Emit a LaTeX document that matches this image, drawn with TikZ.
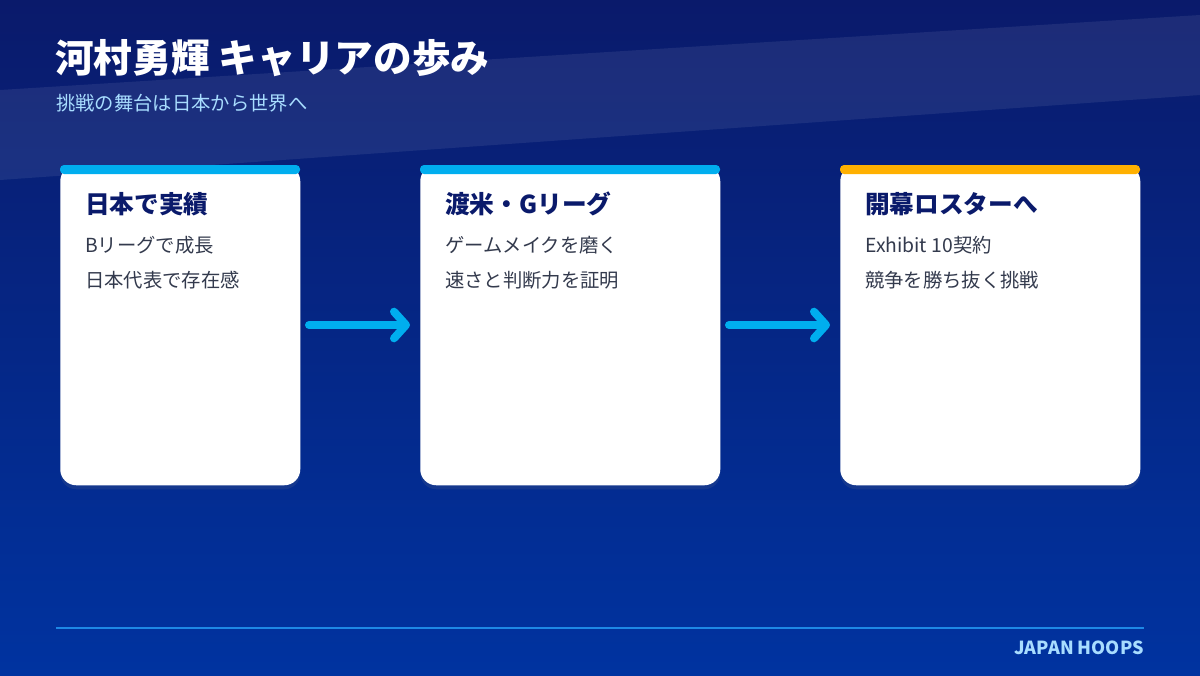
\documentclass[tikz,border=0pt]{standalone}
\usepackage{fontspec}
\setmainfont{Noto Sans CJK JP}[BoldFont={Noto Sans CJK JP Black}]
\usetikzlibrary{positioning,arrows.meta,shadows}
\definecolor{navy}{HTML}{0A1A6B}
\definecolor{deepblue}{HTML}{0033A0}
\definecolor{cyanbar}{HTML}{00AEEF}
\definecolor{orangebar}{HTML}{FFB000}
\definecolor{bodytext}{HTML}{333A4D}
\definecolor{subtext}{HTML}{A8DDFF}
\definecolor{rulecol}{HTML}{1E88E5}

\tikzset{
  card/.style={anchor=north west,fill=white,rounded corners=16*0.75pt,
    minimum height=320*0.75pt,inner sep=0pt,
    drop shadow={opacity=0.15,shadow xshift=0pt,shadow yshift=-3pt}},
  bar/.style={rounded corners=3pt},
  txt/.style={anchor=west,inner sep=0pt},
  head/.style={txt,text=navy,font=\bfseries\fontsize{18.5}{20}\selectfont},
  line/.style={txt,text=bodytext,font=\fontsize{14.5}{16}\selectfont},
  flow/.style={-{Straight Barb[length=9pt,width=20pt,round]},
    line width=6pt,line cap=round,draw=cyanbar,shorten <=9*0.75pt,shorten >=10*0.75pt}
}

\begin{document}
\begin{tikzpicture}[x=0.75pt,y=-0.75pt]
\useasboundingbox (0,0) rectangle (1200,675);
\shade[top color=navy,bottom color=deepblue] (0,0) rectangle (1200,675);
\fill[white,opacity=0.08] (0,90) -- (1200,15) -- (1200,95) -- (0,180) -- cycle;

\node[txt,text=white,font=\bfseries\fontsize{29}{32}\selectfont] (title) at (55,58) {河村勇輝 キャリアの歩み};
\node[txt,text=subtext,font=\fontsize{14.5}{16}\selectfont] (sub) at (56,103) {挑戦の舞台は日本から世界へ};

% cards
\node[card,minimum width=240*0.75pt] (c1) at (60,165) {};
\node[card,minimum width=300*0.75pt] (c2) at (420,165) {};
\node[card,minimum width=300*0.75pt] (c3) at (840,165) {};
\fill[bar,cyanbar] (60,165) rectangle (300,174);
\fill[bar,cyanbar] (420,165) rectangle (720,174);
\fill[bar,orangebar] (840,165) rectangle (1140,174);

\node[head] (h1) at (85,204) {日本で実績};
\node[line] (a1) at (85,245) {Bリーグで成長};
\node[line] (b1) at (85,280) {日本代表で存在感};

\node[head] (h2) at (445,204) {渡米・Gリーグ};
\node[line] (a2) at (445,245) {ゲームメイクを磨く};
\node[line] (b2) at (445,280) {速さと判断力を証明};

\node[head] (h3) at (865,204) {開幕ロスターへ};
\node[line] (a3) at (865,245) {Exhibit 10契約};
\node[line] (b3) at (865,280) {競争を勝ち抜く挑戦};

% arrows
\coordinate (e1) at (300,325);
\coordinate (w2) at (420,325);
\coordinate (e2) at (720,325);
\coordinate (w3) at (840,325);
\draw[flow] (e1) -- (w2);
\draw[flow] (e2) -- (w3);

% footer
\coordinate (f1) at (56,628);
\coordinate (f2) at (1144,628);
\draw[rulecol,line width=1.5pt] (f1) -- (f2);
\node[txt,anchor=east,text=subtext,font=\bfseries\fontsize{13.5}{15}\selectfont] (brand) at (1144,648) {JAPAN HOOPS};
\end{tikzpicture}
\end{document}
